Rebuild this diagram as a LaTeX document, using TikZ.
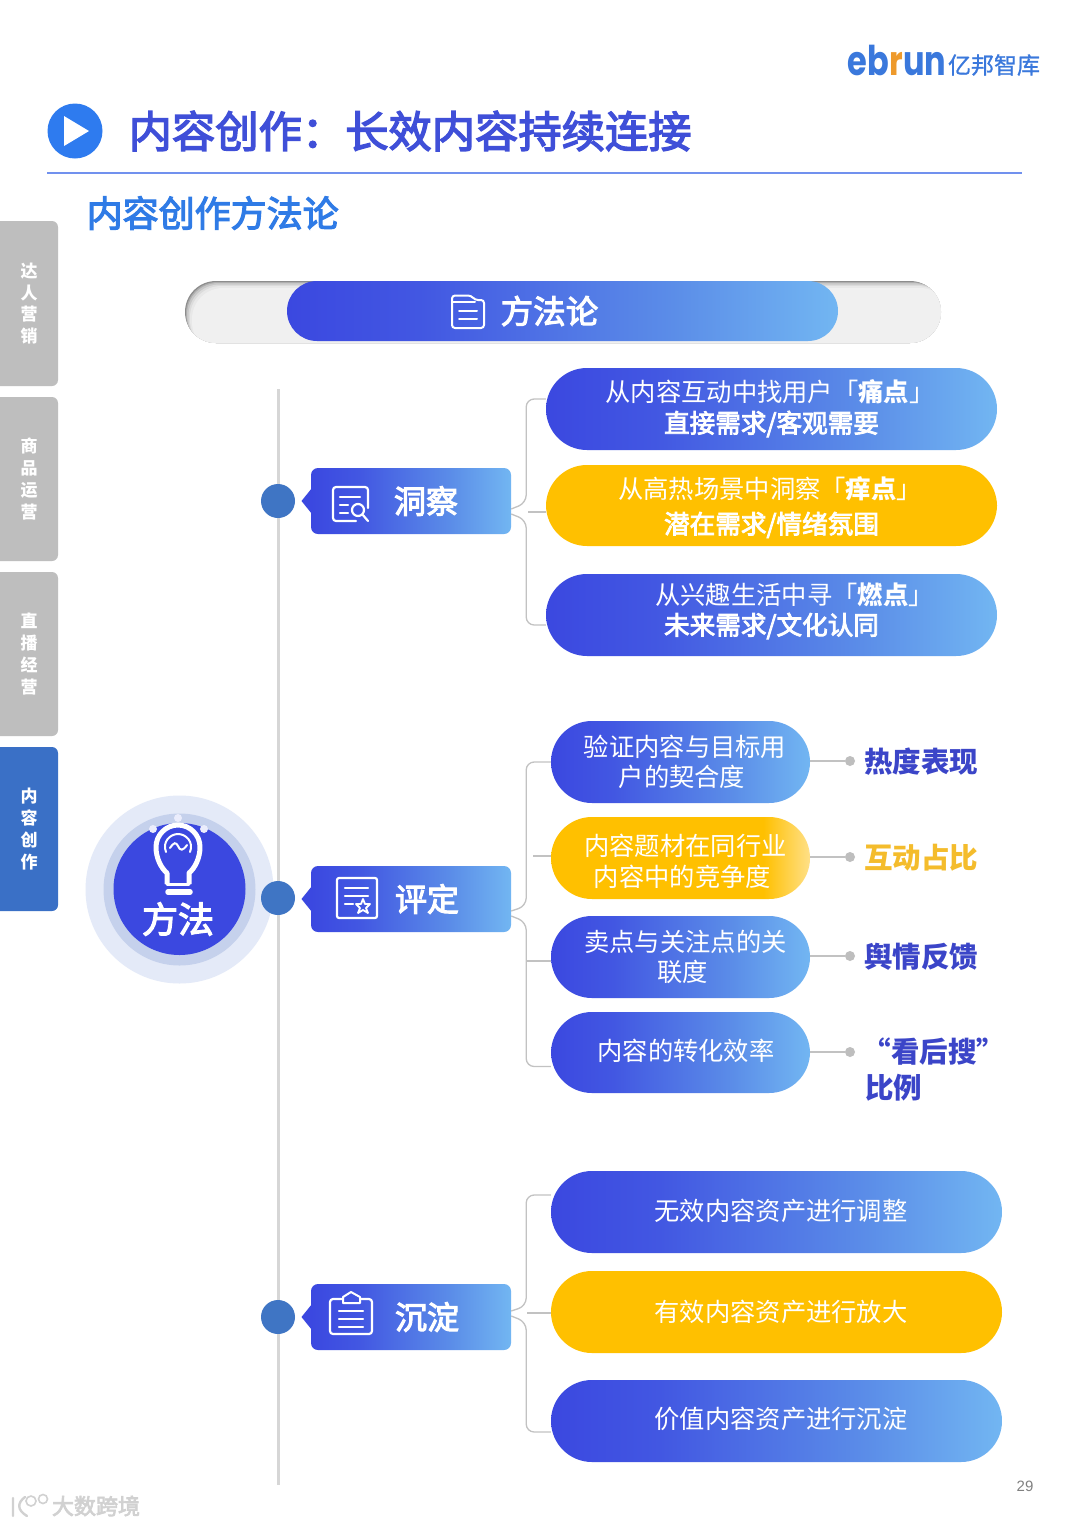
\documentclass[tikz,border=0pt]{standalone}
\usepackage{fontspec}
\setmainfont{Noto Sans CJK SC}
\setsansfont{Liberation Sans}
\newfontfamily\cjkmed[FakeBold=3.2]{Noto Sans CJK SC}
\newfontfamily\cjkdemi[FakeBold=1]{Noto Sans CJK SC}
\newfontfamily\logofont{Poppins}
\usetikzlibrary{calc}
\definecolor{gA}{HTML}{3B48E0}
\definecolor{gB}{HTML}{4257E2}
\definecolor{gC}{HTML}{5B8DE8}
\definecolor{gD}{HTML}{72B6F2}
\definecolor{yA}{HTML}{FFC000}
\definecolor{yB}{HTML}{FFE088}
\definecolor{tabgray}{HTML}{BEBEBE}
\definecolor{tabblue}{HTML}{3A70C6}
\definecolor{titleblue}{HTML}{3F4FD8}
\definecolor{subblue}{HTML}{2F7BE6}
\definecolor{playblue}{HTML}{2E7BEF}
\definecolor{rulec}{HTML}{7191EE}
\definecolor{connc}{HTML}{C2C2C2}
\definecolor{spine}{HTML}{D6D6D6}
\definecolor{dotc}{HTML}{3F75C4}
\definecolor{labblue}{HTML}{3B45C8}
\definecolor{labyel}{HTML}{F4BC2C}
\definecolor{logoblue}{HTML}{3A78DC}
\definecolor{logoor}{HTML}{EE9A2C}
\definecolor{hubA}{HTML}{E4EAF8}
\definecolor{hubB}{HTML}{C5D1EC}
\pgfdeclarehorizontalshading{bluegrad}{100bp}{color(0bp)=(gA); color(25bp)=(gA); color(37bp)=(gB); color(60bp)=(gC); color(75bp)=(gD); color(100bp)=(gD)}
\pgfdeclarehorizontalshading{yellowgrad}{100bp}{color(0bp)=(yA); color(25bp)=(yA); color(66bp)=(yA); color(75bp)=(yB); color(100bp)=(yB)}
\newcommand{\fsz}[2]{\fontsize{#1}{#2}\selectfont}
\tikzset{
  bluepill/.style={shading=bluegrad,rounded corners=41pt,inner sep=0pt},
  goldpill/.style={fill=yA,rounded corners=41pt,inner sep=0pt},
  fadepill/.style={shading=yellowgrad,rounded corners=41pt,inner sep=0pt},
  tagbox/.style={shading=bluegrad,rounded corners=7pt,inner sep=0pt},
  conn/.style={draw=connc,line width=1.3pt,rounded corners=8pt},
  leader/.style={draw=connc,line width=1.3pt},
  pilltext/.style={text=white,inner sep=0pt,font=\fsz{25.3}{30}},
  boldtext/.style={text=white,inner sep=0pt,font=\cjkmed\fsz{25.6}{30}},
  tagtext/.style={text=white,inner sep=0pt,font=\cjkmed\fsz{32}{36}},
  tabtext/.style={text=white,inner sep=0pt,align=center,font=\bfseries\fsz{17}{21.7}},
  metric/.style={inner sep=0pt,font=\bfseries\fsz{28.5}{34}},
  icon/.style={draw=white,line width=2.2pt,line cap=round,line join=round},
  spot/.style={circle,fill=dotc,minimum size=34pt,inner sep=0pt},
  enddot/.style={circle,fill=tabgray,minimum size=10pt,inner sep=0pt},
}
% name, x1, y1, x2, y2, style
\newcommand{\pillbox}[6]{%
  \pgfmathsetmacro{\cxx}{(#2+#4)/2}\pgfmathsetmacro{\cyy}{(#3+#5)/2}%
  \pgfmathsetmacro{\www}{#4-#2}\pgfmathsetmacro{\hhh}{#5-#3}%
  \node[#6,minimum width=\www pt,minimum height=\hhh pt] (#1) at (\cxx,\cyy) {};}
% name, y1, y2, colour, text
\newcommand{\sidetab}[5]{%
  \fill[#4] (0,#2) [rounded corners=6pt] -- (58,#2) -- (58,#3) [sharp corners] -- (0,#3) -- cycle;
  \node[tabtext] (#1) at (29,{(#2+#3)/2}) {#5};}
\begin{document}
\begin{tikzpicture}[x=1pt,y=-1pt]
\useasboundingbox (0,0) rectangle (1080,1526);
\fill[white] (0,0) rectangle (1080,1526);
% logo
\node[inner sep=0pt,text=logoblue,font=\logofont\bfseries\fsz{41}{46}] (logo) at (897,60) {\scalebox{0.78}[1]{eb{\color{logoor}r}un}};
\node[inner sep=0pt,text=logoblue,font=\cjkdemi\fsz{23}{26}] (logocn) at (994,65) {亿邦智库};
% heading
\node[circle,fill=playblue,minimum size=55pt,inner sep=0pt] (play) at (75,131) {};
\fill[white] (64,116) -- (89,131) -- (64,146) -- cycle;
\node[anchor=west,inner sep=0pt,text=titleblue,font=\cjkmed\fsz{43.3}{48}] (title) at (128.5,131) {内容创作：长效内容持续连接};
\draw[rulec,line width=1.5pt] (47,173) -- (1022,173);
\node[anchor=west,inner sep=0pt,text=subblue,font=\cjkmed\fsz{36}{40}] (sub) at (86.5,213) {内容创作方法论};
% side tabs
\sidetab{tabA}{221}{386}{tabgray}{达\\人\\营\\销}
\sidetab{tabB}{397}{561}{tabgray}{商\\品\\运\\营}
\sidetab{tabC}{572}{736}{tabgray}{直\\播\\经\\营}
\sidetab{tabD}{747}{911}{tabblue}{内\\容\\创\\作}
% top bar
\begin{scope}
  \clip[rounded corners=31pt] (185,281) rectangle (941,343);
  \fill[rounded corners=31pt,black!45] (185,281) rectangle (941,343);
  \fill[rounded corners=31pt,black!32] (186,282) rectangle (943,345);
  \fill[rounded corners=31pt,black!22] (187,283) rectangle (945,347);
  \fill[rounded corners=31pt,black!14] (188.5,284.5) rectangle (947,349);
  \fill[rounded corners=31pt,black!9] (190,286) rectangle (949,351);
  \fill[rounded corners=31pt,white!94!black] (192,288) rectangle (951,353);
\end{scope}
\pillbox{barIn}{287}{281}{838}{341}{tagbox,rounded corners=30pt}
\node[inner sep=0pt,text=white,font=\cjkmed\fsz{32.5}{36}] (barT) at (549.5,311) {方法论};
\draw[icon,line width=2pt,rounded corners=3pt] (452,328) -- (452,295.5) -- (471,295.5) -- (475,300) -- (484,300) -- (484,328) -- cycle;
\draw[icon,line width=2pt] (452,302) -- (475,302) (459,311) -- (477,311) (459,319) -- (477,319);
% spine
\draw[spine,line width=3pt] (278,389) -- (278,1485);
% centre
\fill[hubA] (179.5,889.5) circle[radius=94pt];
\fill[hubB] (179.5,889.5) circle[radius=76pt];
\fill[gA] (179.5,889) circle[radius=66pt];
\draw[white,line width=5pt,line join=round] (167,884) -- (167,873) .. controls (161,868) and (156,858) .. (156,847) .. controls (156,835) and (166,825) .. (178,825) .. controls (190,825) and (200,835) .. (200,847) .. controls (200,858) and (195,868) .. (189,873) -- (189,884);
\draw[white,line width=3pt,line cap=round] (167,884) -- (189,884);
\draw[white,line width=5.5pt,line cap=round] (168,892) -- (190,892);
\draw[white,line width=2pt,line cap=round] (166,852) .. controls (162,842) and (170,834) .. (178,834) .. controls (186,834) and (194,842) .. (190,852);
\draw[white,line width=2pt,line cap=round] (170,848) .. controls (174,842) and (176,842) .. (178,846) .. controls (180,851) and (183,851) .. (187,845);
\fill[white!90!gA] (178,818) circle[radius=4pt] (153,829) circle[radius=4pt] (204,829) circle[radius=4pt];
\node[inner sep=0pt,text=white,font=\cjkmed\fsz{36}{40}] (hub) at (178,919) {方法};
% spots
\node[spot] (s1) at (278,501) {};
\node[spot] (s2) at (278,898) {};
\node[spot] (s3) at (278,1317) {};
% tags
\pillbox{t1}{311}{468}{511}{534}{tagbox}
\pillbox{t2}{311}{866}{511}{932}{tagbox}
\pillbox{t3}{311}{1284}{511}{1350}{tagbox}
\fill[gA] (301.5,501) -- (312,488) -- (312,514) -- cycle;
\fill[gA] (301.5,899) -- (312,886) -- (312,912) -- cycle;
\fill[gA] (301.5,1317) -- (312,1304) -- (312,1330) -- cycle;
\node[tagtext] (t1t) at (426,501) {洞察};
\node[tagtext] (t2t) at (427,899) {评定};
\node[tagtext] (t3t) at (427,1317) {沉淀};
% icon search doc
\draw[icon,rounded corners=3pt] (368,508) -- (368,487) -- (333,487) -- (333,521) -- (356,521);
\draw[icon] (340,497) -- (360,497) (340,505) -- (348,505) (340,513) -- (348,513);
\draw[icon] (358,510) circle[radius=6pt] (362.5,514.5) -- (368,521);
% icon doc star
\draw[icon,rounded corners=2pt] (337,878) rectangle (377,918);
\draw[icon] (345,888) -- (368,888) (345,896) -- (368,896) (345,904) -- (353,904);
\draw[white,line width=1.8pt,line join=round] (363,899) -- (365,904) -- (370,904) -- (366,908) -- (368,913) -- (363,910) -- (358,913) -- (360,908) -- (356,904) -- (361,904) -- cycle;
% icon clipboard
\draw[icon,rounded corners=3pt] (343,1299) -- (330,1299) -- (330,1334) -- (372,1334) -- (372,1299) -- (360,1299);
\draw[icon,line width=2pt] (343,1303) -- (343,1297) -- (351,1292) -- (360,1297) -- (360,1303) -- cycle;
\draw[icon] (339,1311) -- (363,1311) (339,1319) -- (363,1319) (339,1327) -- (363,1327);
% pills row 1
\pillbox{p1}{546}{368}{997}{450}{bluepill}
\pillbox{p2}{546}{465}{997}{546}{goldpill}
\pillbox{p3}{546}{574}{997}{656}{bluepill}
\node[pilltext] (p1a) at (770,392) {从内容互动中找用户「\textbf{痛点}」};
\node[boldtext] (p1b) at (771.5,424) {直接需求/客观需要};
\node[pilltext] (p2a) at (770,489) {从高热场景中洞察「\textbf{痒点}」};
\node[boldtext] (p2b) at (771.5,525) {潜在需求/情绪氛围};
\node[pilltext] (p3a) at (794.5,595) {从兴趣生活中寻「\textbf{燃点}」};
\node[boldtext] (p3b) at (771.5,626) {未来需求/文化认同};
% pills row 2
\pillbox{q1}{551}{721}{810}{803}{bluepill}
\pillbox{q2}{551}{817}{810}{899}{fadepill}
\pillbox{q3}{551}{916}{810}{998}{bluepill}
\pillbox{q4}{551}{1012}{810}{1093}{bluepill}
\node[pilltext] (q1a) at (685,747) {验证内容与目标用};
\node[pilltext] (q1b) at (682,777) {户的契合度};
\node[pilltext] (q2a) at (685.5,846) {内容题材在同行业};
\node[pilltext] (q2b) at (682.5,877) {内容中的竞争度};
\node[pilltext] (q3a) at (685.5,942) {卖点与关注点的关};
\node[pilltext] (q3b) at (682.5,972) {联度};
\node[pilltext] (q4a) at (686,1051) {内容的转化效率};
% pills row 3
\pillbox{r1}{551}{1171}{1002}{1253}{bluepill}
\pillbox{r2}{551}{1271}{1002}{1353}{goldpill}
\pillbox{r3}{551}{1380}{1002}{1462}{bluepill}
\node[pilltext] (r1a) at (781,1211) {无效内容资产进行调整};
\node[pilltext] (r2a) at (781,1312) {有效内容资产进行放大};
\node[pilltext] (r3a) at (781,1419) {价值内容资产进行沉淀};
% connectors row 1
\draw[conn] ([yshift=-8pt]t1.east) -- ++(15,-6) |- ([yshift=10pt]p1.west);
\draw[conn] ([yshift=-13pt]t1.east) -- ++(15,6) |- ([yshift=-10pt]p3.west);
\draw[leader] ([yshift=-6.5pt]p2.west) -- ++(-18,0);
% connectors row 2
\draw[conn] ([yshift=-12pt]t2.east) -- ++(15,-5) |- ([yshift=0pt]q1.west);
\draw[conn] ([yshift=-17pt]t2.east) -- ++(15,6) |- ([yshift=-14pt]q4.west);
\draw[leader] ([yshift=2pt]q2.west) -- ++(-18,0);
\draw[leader] ([yshift=-4pt]q3.west) -- ++(-24,0);
% connectors row 3
\draw[conn] ([yshift=6pt]t3.east) -- ++(15,-5) |- ([yshift=17pt]r1.west);
\draw[conn] ([yshift=1pt]t3.east) -- ++(15,6) |- ([yshift=-11pt]r3.west);
\draw[leader] ([yshift=-1pt]r2.west) -- ++(-24,0);
% metrics
\node[enddot] (d1) at (850,761) {};
\node[enddot] (d2) at (850,857) {};
\node[enddot] (d3) at (850,956) {};
\node[enddot] (d4) at (850,1052) {};
\draw[leader] ([yshift=1pt]q1.east) -- (d1);
\draw[leader] ([yshift=1pt]q2.east) -- (d2);
\draw[leader] ([yshift=1pt]q3.east) -- (d3);
\draw[leader] ([yshift=.5pt]q4.east) -- (d4);
\node[metric,text=labblue] (m1) at (921,762) {热度表现};
\node[metric,text=labyel] (m2) at (921,858) {互动占比};
\node[metric,text=labblue] (m3) at (921,957) {舆情反馈};
\node[metric,text=labblue] (m4) at (934,1052) {“看后搜”};
\node[metric,text=labblue,anchor=west] (m5) at (865,1088) {比例};
% page number and watermark
\node[inner sep=0pt,text=black!50,font=\sffamily\fsz{15}{18}] (pg) at (1025,1486) {29};
\node[inner sep=0pt,text=black!18,font=\cjkmed\fsz{22}{26}] (wm) at (96,1506) {大数跨境};
\draw[black!18,line width=2.4pt,line cap=round] (13,1498) -- (13,1516) (25,1497) .. controls (17,1503) and (17,1510) .. (27,1516);
\draw[black!18,line width=1.6pt] (31,1501) circle[radius=5pt] (43,1499) circle[radius=4.5pt];
\end{tikzpicture}
\end{document}
